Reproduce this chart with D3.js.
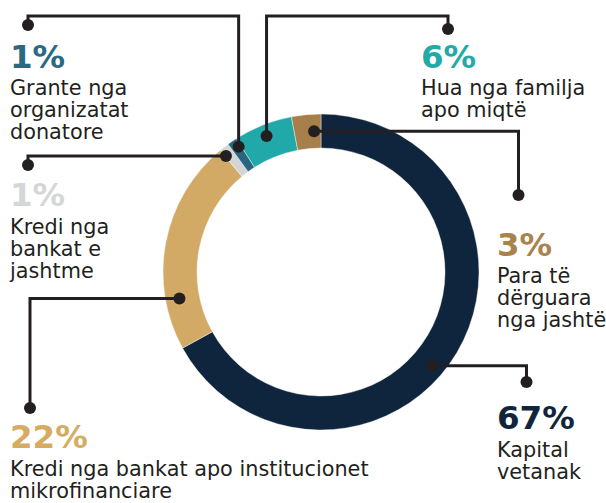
<!DOCTYPE html>
<html>
<head>
<meta charset="utf-8">
<script src="https://cdn.jsdelivr.net/npm/d3@7"></script>
<style>
  body { margin: 0; background: #fff; }
  text { font-family: "DejaVu Sans", sans-serif; }
</style>
</head>
<body>
<div id="chart"></div>
<script>
// Data (order = clockwise from 12 o'clock)
const categories = ["Kapital vetanak", "Kredi nga bankat apo institucionet", "Kredi nga bankat e jashtme",
  "Grante nga organizatat donatore", "Hua nga familja apo miqtë", "Para të dërguara nga jashtë"];
const values = [67, 22, 1, 1, 6, 3];
const pctLabels = ["67%", "22%", "1%", "1%", "6%", "3%"];
const labelLines = [
  ["Kapital", "vetanak"],
  ["Kredi nga bankat apo institucionet", "mikrofinanciare"],
  ["Kredi nga", "bankat e", "jashtme"],
  ["Grante nga", "organizatat", "donatore"],
  ["Hua nga familja", "apo miqtë"],
  ["Para të", "dërguara", "nga jashtë"]
];
const colors = ["#0f253d", "#d3aa65", "#d3d5d7", "#2a6580", "#20a9a8", "#a67f4a"];
const pctColors = ["#10253c", "#d5ac62", "#d5d6d8", "#2b6882", "#22aaa8", "#a8834b"];

// Layout for the callouts: where on the slice the dot sits, how the leader bends, where the label is
const callouts = [
  { frac: 0.54, r: 145, bend: "h", tx: 526.5, ty: 382, lx: 497, py: 429 },
  { frac: 0.23, r: 144, bend: "h", tx: 30, ty: 408, lx: 10, py: 448 },
  { frac: 0.08, r: 150, bend: "h", tx: 28, ty: 165, lx: 10, py: 206 },
  { frac: 0.75, r: 150, bend: "v", ey: 16, tx: 28, ty: 25, lx: 10, py: 67.5 },
  { frac: 0.49, r: 146.5, bend: "v", ey: 16, tx: 448, ty: 29, lx: 421, py: 67.5 },
  { frac: 0.74, r: 141, bend: "h", tx: 518.5, ty: 195, lx: 497, py: 255.5 }
];

const width = 606, height = 503;
const cx = 321, cy = 272;
const outerR = 158, innerR = 124;
const lineH = 22;
const ink = "#231f20";

const svg = d3.select("#chart")
  .append("svg")
  .attr("width", width)
  .attr("height", height);

const pie = d3.pie().sort(null).value(d => d);
const arcs = pie(values);

const arc = d3.arc().innerRadius(innerR).outerRadius(outerR);

const ring = svg.append("g")
  .attr("transform", `translate(${cx},${cy})`);

ring.selectAll("path")
  .data(arcs)
  .join("path")
  .attr("d", arc)
  .attr("fill", (d, i) => colors[i])
  .attr("stroke", "#fff")
  .attr("stroke-width", 0.4);

// Leader lines + dots
arcs.forEach((a, i) => {
  const c = callouts[i];
  const ang = a.startAngle + (a.endAngle - a.startAngle) * c.frac;
  const p = d3.pointRadial(ang, c.r);
  const sx = cx + p[0], sy = cy + p[1];

  const path = d3.path();
  path.moveTo(sx, sy);
  if (c.bend === "v") {
    path.lineTo(sx, c.ey);
    path.lineTo(c.tx, c.ey);
  } else {
    path.lineTo(c.tx, sy);
  }
  path.lineTo(c.tx, c.ty);

  svg.append("path")
    .attr("d", path.toString())
    .attr("fill", "none")
    .attr("stroke", ink)
    .attr("stroke-width", 3)
    .attr("stroke-linejoin", "miter");

  svg.append("circle").attr("cx", sx).attr("cy", sy).attr("r", 6).attr("fill", ink);
  svg.append("circle").attr("cx", c.tx).attr("cy", c.ty).attr("r", 6).attr("fill", ink);

  // Labels
  const g = svg.append("g");
  g.append("text")
    .attr("x", c.lx)
    .attr("y", c.py)
    .attr("fill", pctColors[i])
    .style("font-size", "32.5px")
    .style("font-weight", "bold")
    .text(pctLabels[i]);

  g.selectAll("text.cat")
    .data(labelLines[i])
    .join("text")
    .attr("class", "cat")
    .attr("x", c.lx)
    .attr("y", (d, j) => c.py + 27.5 + j * lineH)
    .attr("fill", ink)
    .style("font-size", "20.8px")
    .text(d => d);
});
</script>
</body>
</html>
